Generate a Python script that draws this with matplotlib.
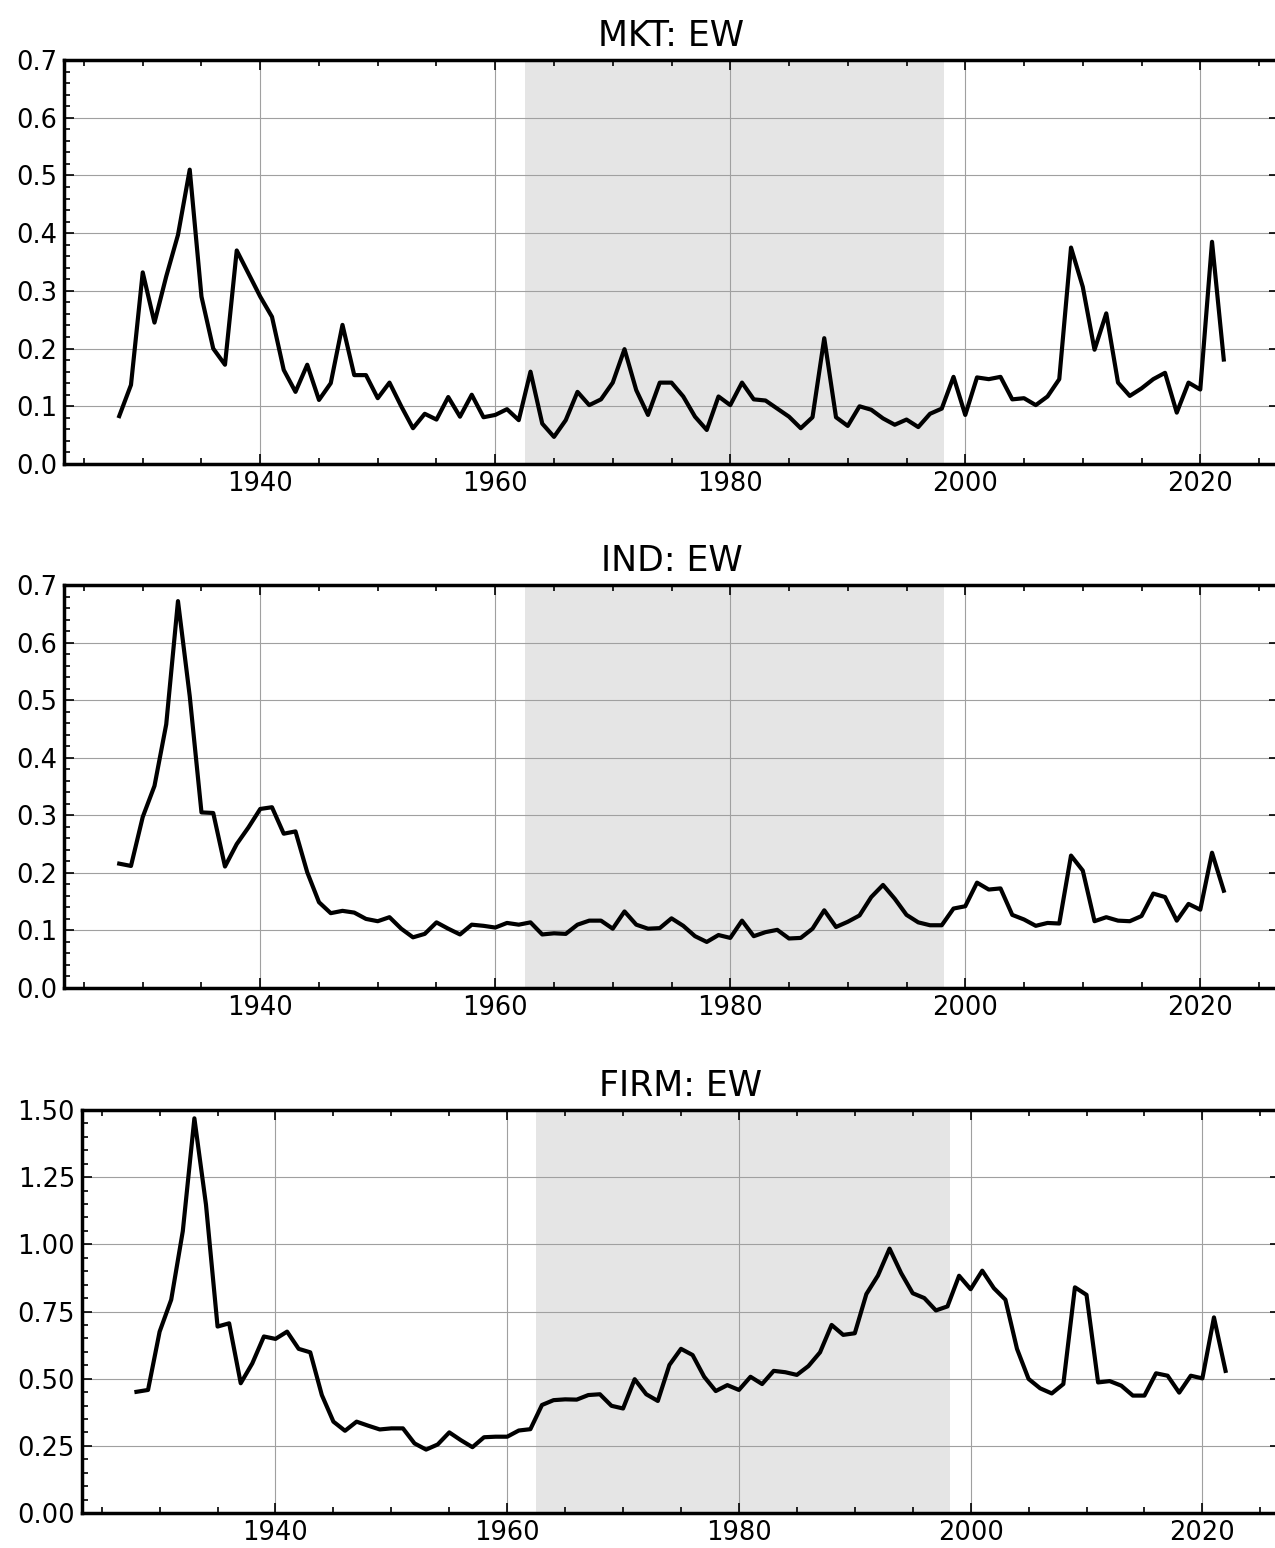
import numpy as np
import matplotlib
matplotlib.use("Agg")
import matplotlib.pyplot as plt
from matplotlib.ticker import MultipleLocator, FormatStrFormatter

years = list(range(1928, 2023))

mkt_ew = [
    0.083, 0.137, 0.332, 0.245, 0.325, 0.397, 0.510, 0.290, 0.200, 0.172,
    0.370, 0.330, 0.290, 0.255, 0.163, 0.125, 0.172, 0.111, 0.140, 0.241,
    0.154, 0.154, 0.114, 0.141, 0.100, 0.062, 0.087, 0.077, 0.116, 0.082,
    0.120, 0.081, 0.085, 0.095, 0.076, 0.160, 0.070, 0.047, 0.076, 0.125,
    0.102, 0.112, 0.141, 0.199, 0.128, 0.085, 0.141, 0.141, 0.117, 0.082,
    0.059, 0.117, 0.102, 0.141, 0.112, 0.110, 0.096, 0.082, 0.062, 0.081,
    0.218, 0.081, 0.066, 0.100, 0.094, 0.079, 0.068, 0.077, 0.064, 0.087,
    0.096, 0.151, 0.085, 0.150, 0.147, 0.151, 0.112, 0.114, 0.102, 0.117,
    0.147, 0.375, 0.307, 0.198, 0.261, 0.141, 0.118, 0.131, 0.147, 0.158,
    0.089, 0.141, 0.129, 0.385, 0.181,
]

ind_ew = [
    0.216, 0.212, 0.297, 0.351, 0.458, 0.672, 0.507, 0.305, 0.304, 0.211,
    0.250, 0.279, 0.311, 0.314, 0.268, 0.272, 0.201, 0.149, 0.130, 0.134,
    0.131, 0.120, 0.116, 0.123, 0.103, 0.088, 0.094, 0.114, 0.103, 0.093,
    0.110, 0.108, 0.105, 0.113, 0.110, 0.114, 0.093, 0.095, 0.094, 0.110,
    0.117, 0.117, 0.103, 0.133, 0.110, 0.103, 0.104, 0.121, 0.108, 0.090,
    0.080, 0.092, 0.087, 0.117, 0.090, 0.097, 0.101, 0.086, 0.087, 0.103,
    0.135, 0.106, 0.115, 0.126, 0.158, 0.179, 0.155, 0.127, 0.114, 0.109,
    0.109, 0.138, 0.142, 0.183, 0.171, 0.173, 0.127, 0.119, 0.108, 0.113,
    0.112, 0.230, 0.204, 0.116, 0.123, 0.117, 0.116, 0.125, 0.164, 0.158,
    0.117, 0.146, 0.136, 0.235, 0.169,
]

firm_ew = [
    0.451, 0.458, 0.675, 0.794, 1.049, 1.469, 1.148, 0.694, 0.706, 0.483,
    0.557, 0.657, 0.648, 0.675, 0.611, 0.598, 0.439, 0.340, 0.306, 0.340,
    0.325, 0.311, 0.315, 0.315, 0.259, 0.236, 0.255, 0.300, 0.271, 0.245,
    0.282, 0.284, 0.284, 0.307, 0.312, 0.402, 0.420, 0.423, 0.422, 0.439,
    0.442, 0.399, 0.389, 0.498, 0.442, 0.417, 0.551, 0.611, 0.588, 0.507,
    0.454, 0.476, 0.458, 0.507, 0.480, 0.529, 0.524, 0.514, 0.547, 0.598,
    0.700, 0.663, 0.669, 0.815, 0.884, 0.984, 0.893, 0.818, 0.800, 0.754,
    0.769, 0.883, 0.833, 0.902, 0.837, 0.794, 0.611, 0.499, 0.464, 0.445,
    0.480, 0.840, 0.812, 0.486, 0.491, 0.474, 0.437, 0.437, 0.520, 0.511,
    0.448, 0.511, 0.501, 0.728, 0.529,
]

titles = ["MKT: EW", "IND: EW", "FIRM: EW"]
series = [mkt_ew, ind_ew, firm_ew]
ylims = [(0, 0.7), (0, 0.7), (0, 1.5)]
ymajor = [0.1, 0.1, 0.25]
yminor = [0.02, 0.02, 0.05]
yfmt = ["%.1f", "%.1f", "%.2f"]
shade_span = (1962.5, 1998.2)

W, H = 1275, 1548
fig = plt.figure(figsize=(W / 100, H / 100), dpi=100)

# axes boxes in pixels: left, right, top, bottom
boxes = [(64, 1279, 60, 464), (64, 1279, 585, 988), (82, 1280, 1110, 1513)]

for (l, r, t, b), title, vals, yl, ymj, ymn, fmt in zip(
        boxes, titles, series, ylims, ymajor, yminor, yfmt):
    ax = fig.add_axes([l / W, (H - b) / H, (r - l) / W, (b - t) / H])
    ax.axvspan(*shade_span, color="#e5e5e5", lw=0, zorder=0)
    ax.plot(years, vals, color="black", lw=3.0, zorder=3)
    ax.set_ylim(*yl)
    ax.margins(x=0.05)
    ax.xaxis.set_major_locator(MultipleLocator(20))
    ax.xaxis.set_minor_locator(MultipleLocator(5))
    ax.yaxis.set_major_locator(MultipleLocator(ymj))
    ax.yaxis.set_minor_locator(MultipleLocator(ymn))
    ax.yaxis.set_major_formatter(FormatStrFormatter(fmt))
    ax.grid(True, which="major", color="#a0a0a0", lw=0.8, zorder=1)
    ax.set_axisbelow(True)
    ax.tick_params(which="both", direction="in", top=True, right=True,
                   labelsize=18.5, pad=5)
    ax.tick_params(which="major", length=7, width=1.2)
    ax.tick_params(which="minor", length=4, width=1.2, right=False)
    for s in ax.spines.values():
        s.set_linewidth(2.5)
    ax.set_title(title, fontsize=25, pad=10)

fig.savefig("out.png", dpi=100)
